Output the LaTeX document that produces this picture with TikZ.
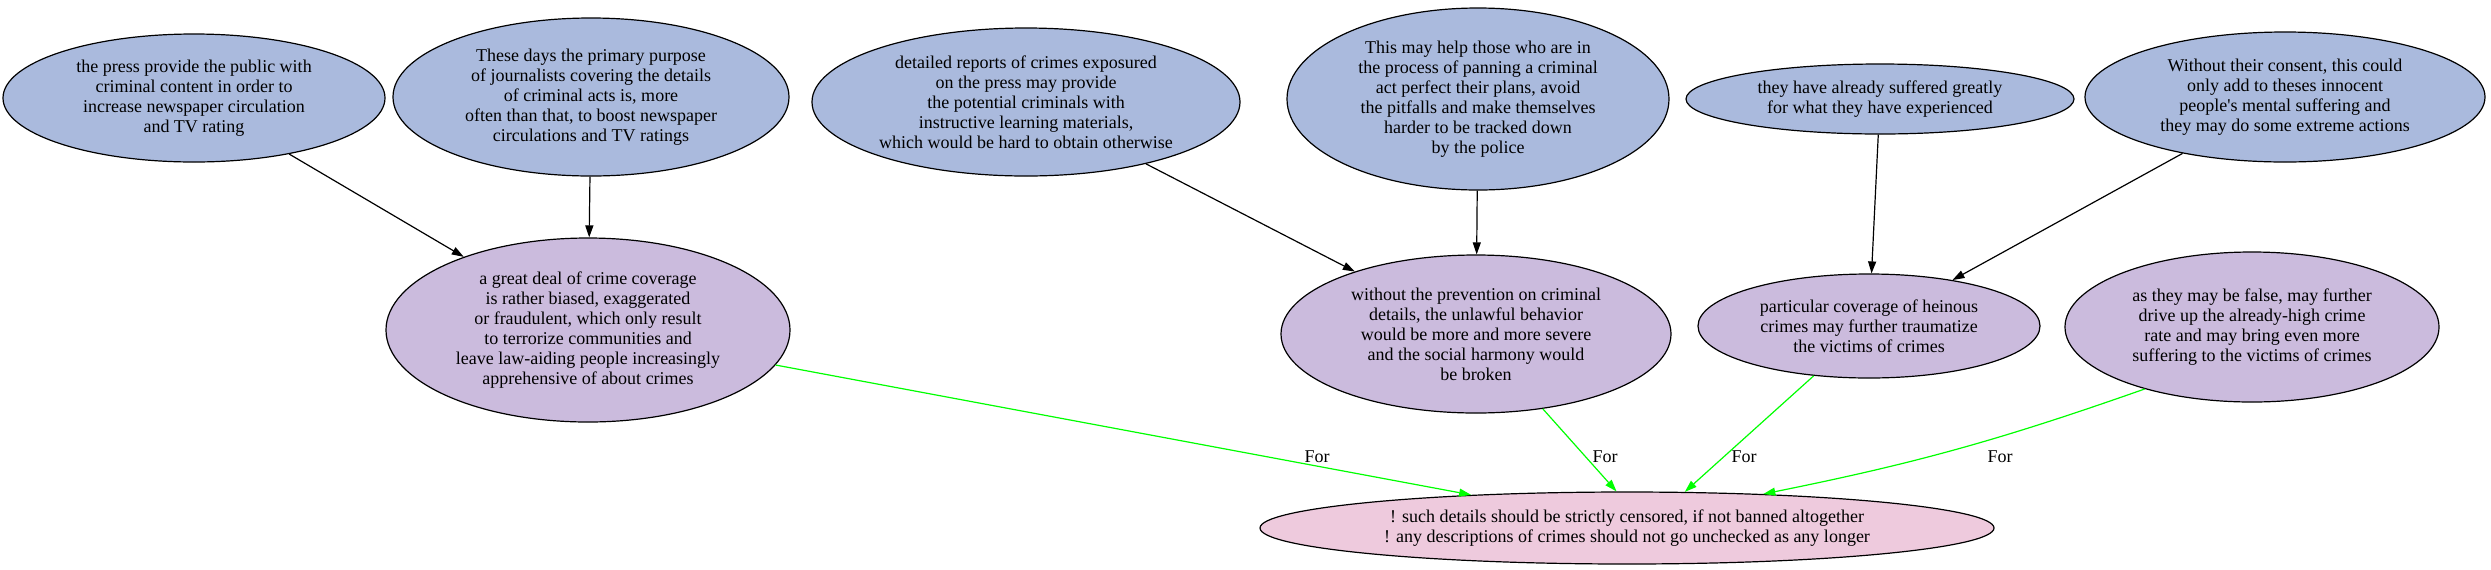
\documentclass[tikz,border=0pt]{standalone}
\usepackage{fontspec}
\setmainfont{Liberation Serif}
\usetikzlibrary{shapes.geometric,arrows.meta}
\definecolor{topblue}{RGB}{170,186,221}
\definecolor{midpurple}{RGB}{203,187,221}
\definecolor{botpink}{RGB}{238,202,221}
\definecolor{forgreen}{RGB}{0,255,0}
\tikzset{
  gnode/.style={ellipse,draw=black,line width=0.6pt,inner sep=0pt,align=center,
    font=\fontsize{9}{10}\selectfont},
  premise/.style={gnode,fill=topblue},
  claim/.style={gnode,fill=midpurple},
  concl/.style={gnode,fill=botpink},
  supp/.style={draw=black,line width=0.6pt,-{Triangle[length=6pt,width=4pt]}},
  forarrow/.style={draw=forgreen,line width=0.6pt,-{Triangle[length=6pt,width=4pt]}},
  forlabel/.style={font=\fontsize{9}{10}\selectfont,inner sep=1pt}
}
\begin{document}
\begin{tikzpicture}[x=0.5pt,y=-0.5pt]
\useasboundingbox (0,0) rectangle (2491,569);
% top row
\node[premise,minimum width=191pt,minimum height=64pt] (A) at (194,98)
  {the press provide the public with\\criminal content in order to\\increase newspaper circulation\\and TV rating};
\node[premise,minimum width=198pt,minimum height=79pt] (B) at (591,97)
  {These days the primary purpose\\of journalists covering the details\\of criminal acts is, more\\often than that, to boost newspaper\\circulations and TV ratings};
\node[premise,minimum width=214pt,minimum height=74pt] (C) at (1026,102)
  {detailed reports of crimes exposured\\on the press may provide\\the potential criminals with\\instructive learning materials,\\which would be hard to obtain otherwise};
\node[premise,minimum width=191pt,minimum height=91pt] (D) at (1478,99)
  {This may help those who are in\\the process of panning a criminal\\act perfect their plans, avoid\\the pitfalls and make themselves\\harder to be tracked down\\by the police};
\node[premise,minimum width=194pt,minimum height=35pt] (E) at (1880,99)
  {they have already suffered greatly\\for what they have experienced};
\node[premise,minimum width=200pt,minimum height=65pt] (F) at (2285,97)
  {Without their consent, this could\\only add to theses innocent\\people\textquotesingle s mental suffering and\\they may do some extreme actions};
% middle row
\node[claim,minimum width=202pt,minimum height=92pt] (G) at (588,330)
  {a great deal of crime coverage\\is rather biased, exaggerated\\or fraudulent, which only result\\to terrorize communities and\\leave law-aiding people increasingly\\apprehensive of about crimes};
\node[claim,minimum width=195pt,minimum height=79pt] (H) at (1476,334)
  {without the prevention on criminal\\details, the unlawful behavior\\would be more and more severe\\and the social harmony would\\be broken};
\node[claim,minimum width=171pt,minimum height=52pt] (I) at (1869,326)
  {particular coverage of heinous\\crimes may further traumatize\\the victims of crimes};
\node[claim,minimum width=187pt,minimum height=75pt] (J) at (2252,327)
  {as they may be false, may further\\drive up the already-high crime\\rate and may bring even more\\suffering to the victims of crimes};
% conclusion
\node[concl,minimum width=367pt,minimum height=36pt] (K) at (1627,528)
  {! such details should be strictly censored, if not banned altogether\\! any descriptions of crimes should not go unchecked as any longer};
% support edges
\draw[supp] (A) -- (G);
\draw[supp] (B) -- (G);
\draw[supp] (C) -- (H);
\draw[supp] (D) -- (H);
\draw[supp] (E) -- (I);
\draw[supp] (F) -- (I);
% for edges
\draw[forarrow] (G) -- (K.168.5);
\draw[forarrow] (H) -- (K.106);
\draw[forarrow] (I) -- (K.32);
\draw[forarrow] (J.210) to[bend left=4] (K.14.3);
\node[forlabel] (l1) at (1317,457) {For};
\node[forlabel] (l2) at (1605,457) {For};
\node[forlabel] (l3) at (1744,457) {For};
\node[forlabel] (l4) at (2000,457) {For};
\end{tikzpicture}
\end{document}
